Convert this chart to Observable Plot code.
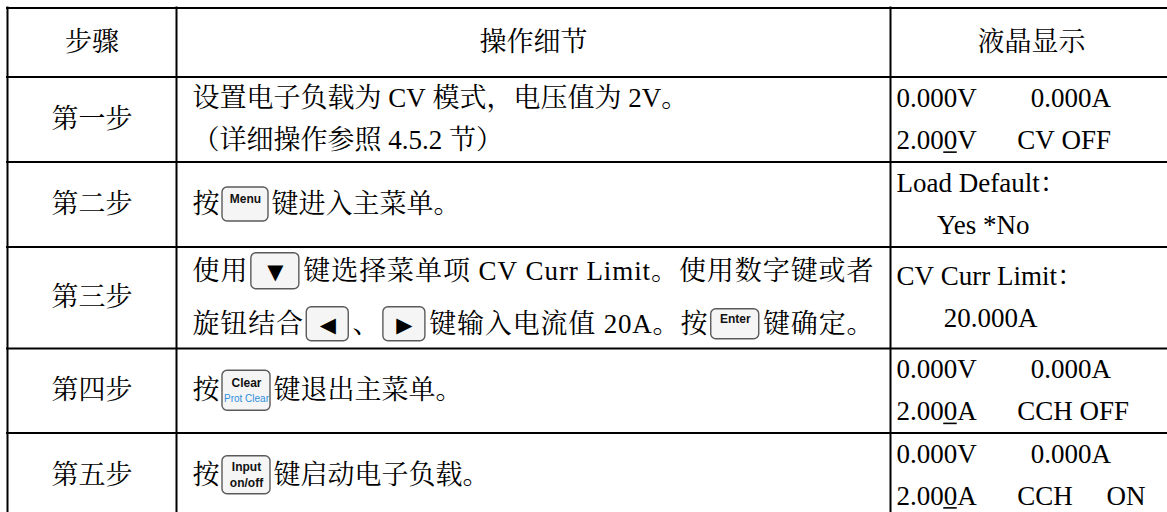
<!DOCTYPE html>
<html>
<head>
<meta charset="utf-8">
<script src="https://cdn.jsdelivr.net/npm/d3@7"></script>
<script src="https://cdn.jsdelivr.net/npm/@observablehq/plot@0.6"></script>
<style>
html, body { margin: 0; padding: 0; background: #fff; overflow: hidden; }
svg { display: block; background: #fff; }
</style>
</head>
<body>
<div id="chart"></div>
<script>
// ---------------- DATA ----------------
const headers = ["步骤", "操作细节", "液晶显示"];
const steps = ["第一步", "第二步", "第三步", "第四步", "第五步"];
const details = [
  ["设置电子负载为 CV 模式，电压值为 2V。", "（详细操作参照 4.5.2 节）"],
  ["按{Menu}键进入主菜单。"],
  ["使用{Down}键选择菜单项 CV Curr Limit。使用数字键或者", "旋钮结合{Left}、{Right}键输入电流值 20A。按{Enter}键确定。"],
  ["按{Clear}键退出主菜单。"],
  ["按{Input}键启动电子负载。"]
];
const keyLabels = {
  Menu: ["Menu"], Down: ["▼"], Left: ["◀"], Right: ["▶"],
  Enter: ["Enter"], Clear: ["Clear", "Prot Clear"], Input: ["Input", "on/off"]
};
const lcdLines = [
  ["0.000V        0.000A", "2.000V      CV OFF"],
  ["Load Default：", "      Yes *No"],
  ["CV Curr Limit：", "       20.000A"],
  ["0.000V        0.000A", "2.000A      CCH OFF"],
  ["0.000V        0.000A", "2.000A      CCH     ON"]
];
const lcdCursor = [[null, 4], [null, null], [null, null], [null, 4], [null, 4]];

// ---------------- LAYOUT ----------------
const W = 1167, H = 512;
const L = {
  colEdges: [7, 176, 890, 1172],
  rowEdges: [7.5, 76.5, 161.5, 246.5, 348, 432.5, 517],
  detailLeft: 192, detailRight: 873, lcdLeft: 896,
  lineGap: 42, iconLineGap: 53,
  justify: [[false, false], [false], [true, true], [false], [false]],
  fontSize: 27,
  keySize: { Menu: [46, 34], Down: [48, 36], Left: [42, 34], Right: [42, 34], Enter: [48, 30], Clear: [48, 40], Input: [48, 38] },
  keyGap: 3
};
const FONT = '"Liberation Serif", "Times New Roman", "Noto Serif CJK SC", "Noto Sans CJK SC", serif';
const KEYFONT = '"Liberation Sans", Arial, sans-serif';

const ctx = document.createElement("canvas").getContext("2d");
ctx.font = `${L.fontSize}px ${FONT}`;
const measure = s => ctx.measureText(s).width;

const nRows = steps.length;
const headerCenter = (L.rowEdges[0] + L.rowEdges[1]) / 2;
const rowCenter = d3.range(nRows).map(i => (L.rowEdges[i + 1] + L.rowEdges[i + 2]) / 2);
const colCenter = d3.range(headers.length).map(i => (L.colEdges[i] + L.colEdges[i + 1]) / 2);

// detail column: per-character flow layout with inline key icons
const chars = [], keys = [], keyText = [];
details.forEach((lines, r) => {
  const hasKey = lines.some(s => /\{/.test(s));
  const gap = lines.length > 1 && hasKey ? L.iconLineGap : L.lineGap;
  lines.forEach((line, j) => {
    const y = rowCenter[r] + (j - (lines.length - 1) / 2) * gap;
    const items = [];
    line.split(/(\{\w+\})/).filter(s => s).forEach(part => {
      const m = part.match(/^\{(\w+)\}$/);
      if (m) items.push({ key: m[1], width: L.keySize[m[1]][0] + 2 * L.keyGap });
      else for (const ch of part) items.push({ ch, width: measure(ch) });
    });
    const natural = d3.sum(items, d => d.width);
    const extra = L.justify[r][j] ? Math.max(0, (L.detailRight - L.detailLeft - natural) / (items.length - 1)) : 0;
    let x = L.detailLeft;
    for (const it of items) {
      if (it.key) {
        const [kw, kh] = L.keySize[it.key];
        const x1 = x + L.keyGap;
        keys.push({ key: it.key, x1, x2: x1 + kw, y1: y - kh / 2, y2: y + kh / 2 });
        const labels = keyLabels[it.key];
        const cx = x1 + kw / 2;
        if (labels.length === 1 && /[▼◀▶]/.test(labels[0])) {
          keyText.push({ text: labels[0], x: cx, y: y + 1, kind: "arrow" });
        } else if (labels.length === 1) {
          keyText.push({ text: labels[0], x: cx, y: y - kh / 2 + kh * 0.33, kind: "bold" });
        } else {
          keyText.push({ text: labels[0], x: cx, y: y - kh / 2 + kh * 0.3, kind: "bold" });
          keyText.push({ text: labels[1], x: cx, y: y - kh / 2 + kh * 0.7, kind: it.key === "Clear" ? "blue" : "bold" });
        }
      } else if (it.ch !== " ") {
        chars.push({ ch: it.ch, x, y });
      }
      x += it.width + extra;
    }
  });
});

// LCD column
const lcd = [], underlines = [];
lcdLines.forEach((lines, r) => {
  lines.forEach((s, j) => {
    const y = rowCenter[r] + (j - (lines.length - 1) / 2) * L.lineGap;
    lcd.push({ s, y });
    const k = lcdCursor[r][j];
    if (k != null) {
      const x1 = L.lcdLeft + measure(s.slice(0, k));
      underlines.push({ x1, x2: x1 + measure(s[k]), y: y + 0.32 * L.fontSize + 3 });
    }
  });
});

const x0 = L.colEdges[0], xN = L.colEdges[L.colEdges.length - 1];
const y0 = L.rowEdges[0], yN = L.rowEdges[L.rowEdges.length - 1];

const chart = Plot.plot({
  width: W, height: H,
  marginTop: 0, marginRight: 0, marginBottom: 0, marginLeft: 0,
  x: { domain: [0, W], range: [0, W], axis: null },
  y: { domain: [0, H], range: [0, H], axis: null },
  style: { background: "#fff" },
  marks: [
    // key icons
    Plot.rect(keys, { x1: "x1", x2: "x2", y1: "y1", y2: "y2", rx: 5, fill: "#f5f5f5", stroke: "#5a5a5a", strokeWidth: 1.4 }),
    Plot.text(keyText.filter(d => d.kind === "bold"), { x: "x", y: "y", text: "text", fontFamily: KEYFONT, fontWeight: "bold", fontSize: 12, fill: "#111" }),
    Plot.text(keyText.filter(d => d.kind === "blue"), { x: "x", y: "y", text: "text", fontFamily: '"Liberation Sans Narrow", "Liberation Sans", sans-serif', fontSize: 10, fill: "#2f8fde" }),
    Plot.text(keyText.filter(d => d.kind === "arrow"), { x: "x", y: "y", text: "text", fontFamily: '"DejaVu Sans", sans-serif', fontSize: 21, fill: "#000" }),
    // grid
    Plot.ruleY(L.rowEdges, { y: d => d, x1: x0, x2: xN, stroke: "#000", strokeWidth: 2, strokeLinecap: "square" }),
    Plot.ruleX(L.colEdges, { x: d => d, y1: y0, y2: yN, stroke: "#000", strokeWidth: 2, strokeLinecap: "square" }),
    // header
    Plot.text(headers, { x: (d, i) => colCenter[i], y: headerCenter, text: d => d, fontFamily: FONT, fontSize: L.fontSize, fill: "#000" }),
    // step labels
    Plot.text(steps, { x: colCenter[0], y: (d, i) => rowCenter[i], text: d => d, fontFamily: FONT, fontSize: L.fontSize, fill: "#000" }),
    // detail characters
    Plot.text(chars, { x: "x", y: "y", text: "ch", textAnchor: "start", fontFamily: FONT, fontSize: L.fontSize, fill: "#000" }),
    // LCD text
    Plot.text(lcd, { x: L.lcdLeft, y: "y", text: d => d.s.replace(/ /g, "\u00a0"), textAnchor: "start", fontFamily: FONT, fontSize: L.fontSize, fill: "#000" }),
    Plot.ruleY(underlines, { y: "y", x1: "x1", x2: "x2", stroke: "#000", strokeWidth: 1.6 })
  ]
});
document.getElementById("chart").appendChild(chart);
</script>
</body>
</html>
